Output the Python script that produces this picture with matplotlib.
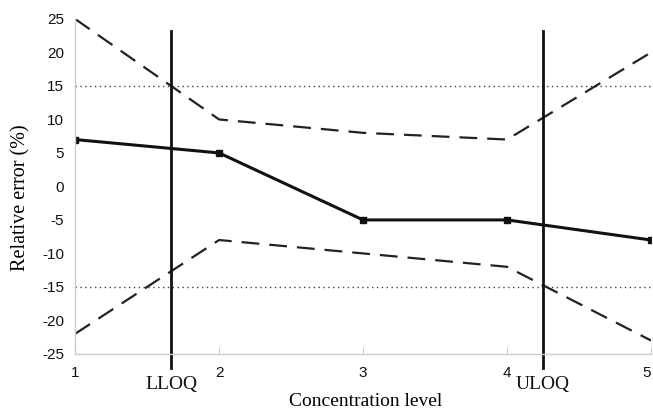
import matplotlib.pyplot as plt
import numpy as np

plt.rcParams['axes.unicode_minus'] = False

levels = [1, 2, 3, 4, 5]
rel_error = [7, 5, -5, -5, -8]
upper_limit = [25, 10, 8, 7, 20]
lower_limit = [-22, -8, -10, -12, -23]
acceptance = [15, -15]
lloq_pos = 1.667
uloq_pos = 4.25
y_ticks = [25, 20, 15, 10, 5, 0, -5, -10, -15, -20, -25]

fig = plt.figure(figsize=(6.53, 4.12), dpi=100)
ax = fig.add_axes([0.115, 0.141, 0.882, 0.813])

for a in acceptance:
    ax.plot([levels[0], levels[-1]], [a, a], color='#444444', lw=1, ls=(0, (1, 2.5)))

ax.plot(levels, upper_limit, color='#222222', lw=1.6, ls=(0, (8, 4.5)))
ax.plot(levels, lower_limit, color='#222222', lw=1.6, ls=(0, (8, 4.5)))
ax.plot(levels, rel_error, color='#111111', lw=2.2, marker='s', ms=5)

for xv in (lloq_pos, uloq_pos):
    ax.axvline(xv, ymin=-0.042, ymax=0.964, color='#111111', lw=2, clip_on=False)

ax.set_xlim(1, 5)
ax.set_ylim(-25, 25)
ax.set_yticks(y_ticks)
ax.set_xticks(levels)
for lab in ax.get_xticklabels() + ax.get_yticklabels():
    lab.set_family('Liberation Sans')
    lab.set_fontsize(11)
    lab.set_color('#111111')
# last label sits at the right edge, keep it inside the figure
ax.get_xticklabels()[-1].set_ha('right')

ax.tick_params(axis='y', length=0, pad=8)
ax.tick_params(axis='x', length=5, direction='in', color='#cccccc', pad=9)

for s in ('top', 'right'):
    ax.spines[s].set_visible(False)
for s in ('left', 'bottom'):
    ax.spines[s].set_color('#cccccc')
    ax.spines[s].set_linewidth(1)

serif = 'Liberation Serif'
ax.text(lloq_pos, -29.6, 'LLOQ', ha='center', va='center', family=serif, fontsize=14, color='#111111')
ax.text(uloq_pos, -29.6, 'ULOQ', ha='center', va='center', family=serif, fontsize=14, color='#111111')
ax.set_xlabel('Concentration level', family=serif, fontsize=14, va='center')
ax.xaxis.set_label_coords(0.505, -0.142)
ax.set_ylabel('Relative error (%)', family=serif, fontsize=14.5, va='center')
ax.yaxis.set_label_coords(-0.094, 0.466)

fig.savefig('out.png', dpi=100)
